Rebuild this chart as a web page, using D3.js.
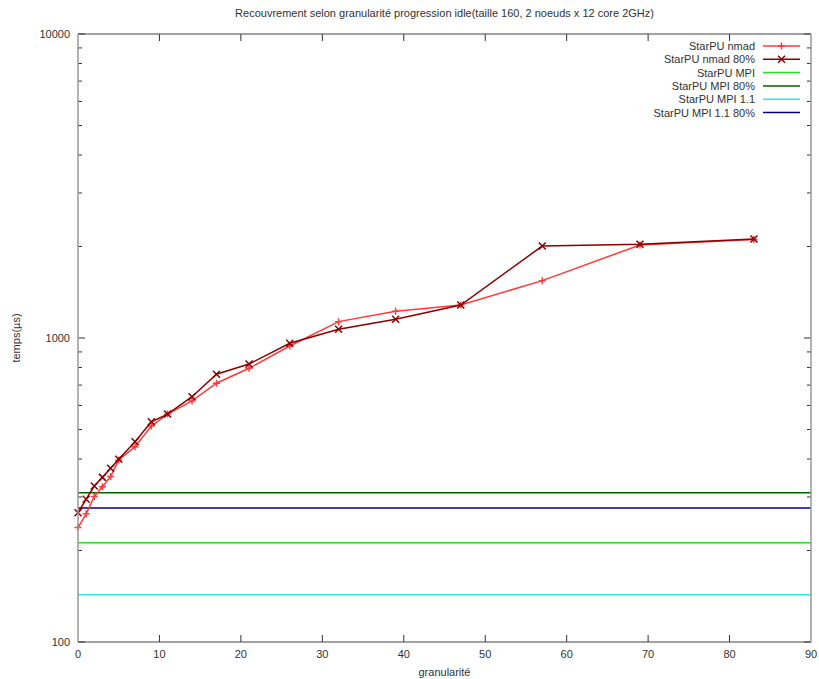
<!DOCTYPE html>
<html><head><meta charset="utf-8">
<script src="https://cdn.jsdelivr.net/npm/d3@7"></script>
<style>body{margin:0;background:#fff;} text{font-family:"Liberation Sans",Arial,sans-serif;}</style>
</head><body>
<svg id="chart" width="819" height="679"></svg>
<script>
const title = "Recouvrement selon granularité progression idle(taille 160, 2 noeuds x 12 core 2GHz)";
const xLabel = "granularité";
const yLabel = "temps(µs)";
const granularity = [0,1,2,3,4,5,7,9,11,14,17,21,26,32,39,47,57,69,83];
const nmad =    [238,264,301,324,350,397,439,513,562,621,710,795,941,1132,1224,1284,1544,2023,2109];
const nmad80 =  [266,295,326,348,373,399,456,530,562,641,760,821,961,1068,1152,1284,2007,2033,2117];
const mpi = 212, mpi80 = 310, mpi11 = 143, mpi11_80 = 276;
const xTicks = [0,10,20,30,40,50,60,70,80,90];
const yTicks = [100,1000,10000];
const seriesNames = ["StarPU nmad","StarPU nmad 80%","StarPU MPI","StarPU MPI 80%","StarPU MPI 1.1","StarPU MPI 1.1 80%"];
const colors = ["#ff3a3a","#8b0000","#22e022","#006400","#30e8e8","#000080"];

const svg = d3.select("#chart");
const L=78, R=811, T=34, B=642;
const x = d3.scaleLinear().domain([0,90]).range([L,R]);
const y = d3.scaleLog().domain([100,10000]).range([B,T]);
const txt = "#333";

// title
svg.append("text").attr("x",(L+R)/2).attr("y",17).attr("text-anchor","middle")
  .attr("font-size",11).attr("fill",txt).text(title);

// ticks
const g = svg.append("g").attr("stroke","#333").attr("stroke-width",1);
xTicks.forEach(v=>{
  if(v>0 && v<90){
    g.append("line").attr("x1",x(v)).attr("x2",x(v)).attr("y1",B).attr("y2",B-7);
    g.append("line").attr("x1",x(v)).attr("x2",x(v)).attr("y1",T).attr("y2",T+7);
  }
  svg.append("text").attr("x",x(v)).attr("y",B+16).attr("text-anchor","middle")
    .attr("font-size",11).attr("fill",txt).text(v);
});
yTicks.forEach(v=>{
  g.append("line").attr("x1",L).attr("x2",L+7).attr("y1",y(v)).attr("y2",y(v));
  g.append("line").attr("x1",R).attr("x2",R-7).attr("y1",y(v)).attr("y2",y(v));
  svg.append("text").attr("x",L-8).attr("y",y(v)+4).attr("text-anchor","end")
    .attr("font-size",11).attr("fill",txt).text(v);
});
[100,1000].forEach(d=>{
  for(let k=2;k<=9;k++){
    const v=d*k;
    g.append("line").attr("x1",L).attr("x2",L+4).attr("y1",y(v)).attr("y2",y(v));
    g.append("line").attr("x1",R).attr("x2",R-4).attr("y1",y(v)).attr("y2",y(v));
  }
});

// axis labels
svg.append("text").attr("x",(L+R)/2).attr("y",676).attr("text-anchor","middle")
  .attr("font-size",11).attr("fill",txt).text(xLabel);
svg.append("text").attr("transform",`translate(20,${(T+B)/2}) rotate(-90)`).attr("text-anchor","middle")
  .attr("font-size",11).attr("fill",txt).text(yLabel);

// horizontal reference lines
const hl = [[mpi,colors[2]],[mpi80,colors[3]],[mpi11,colors[4]],[mpi11_80,colors[5]]];
hl.forEach(([v,c])=>{
  svg.append("line").attr("x1",L).attr("x2",R).attr("y1",y(v)).attr("y2",y(v))
    .attr("stroke",c).attr("stroke-width",1.5);
});

// series
const line = d3.line().x(d=>x(d[0])).y(d=>y(d[1]));
function drawSeries(vals,color,marker){
  const pts = granularity.map((g,i)=>[g,vals[i]]);
  svg.append("path").datum(pts).attr("d",line).attr("fill","none")
    .attr("stroke",color).attr("stroke-width",1.5);
  pts.forEach(p=>drawMarker(x(p[0]),y(p[1]),color,marker));
}
function drawMarker(cx,cy,color,marker){
  const s=3.5;
  const p = marker==="+" ? `M${cx-s},${cy}H${cx+s}M${cx},${cy-s}V${cy+s}`
    : `M${cx-s},${cy-s}L${cx+s},${cy+s}M${cx-s},${cy+s}L${cx+s},${cy-s}`;
  svg.append("path").attr("d",p).attr("stroke",color).attr("stroke-width",1.5).attr("fill","none");
}
drawSeries(nmad,colors[0],"+");
drawSeries(nmad80,colors[1],"x");

// frame
svg.append("line").attr("x1",L).attr("x2",R).attr("y1",T).attr("y2",T).attr("stroke","#444");
svg.append("line").attr("x1",L).attr("x2",R).attr("y1",B).attr("y2",B).attr("stroke","#444");
svg.append("line").attr("x1",L).attr("x2",L).attr("y1",T).attr("y2",B).attr("stroke","#999").attr("stroke-width",1.5);
svg.append("line").attr("x1",R).attr("x2",R).attr("y1",T).attr("y2",B).attr("stroke","#999").attr("stroke-width",1.5);

// legend
const markers=["+","x",null,null,null,null];
seriesNames.forEach((n,i)=>{
  const ly = 46 + i*13.3;
  svg.append("text").attr("x",755).attr("y",ly+4).attr("text-anchor","end")
    .attr("font-size",11).attr("fill",txt).text(n);
  svg.append("line").attr("x1",763).attr("x2",800).attr("y1",ly).attr("y2",ly)
    .attr("stroke",colors[i]).attr("stroke-width",1.5);
  if(markers[i]) drawMarker(781.5,ly,colors[i],markers[i]);
});
</script>
</body></html>
